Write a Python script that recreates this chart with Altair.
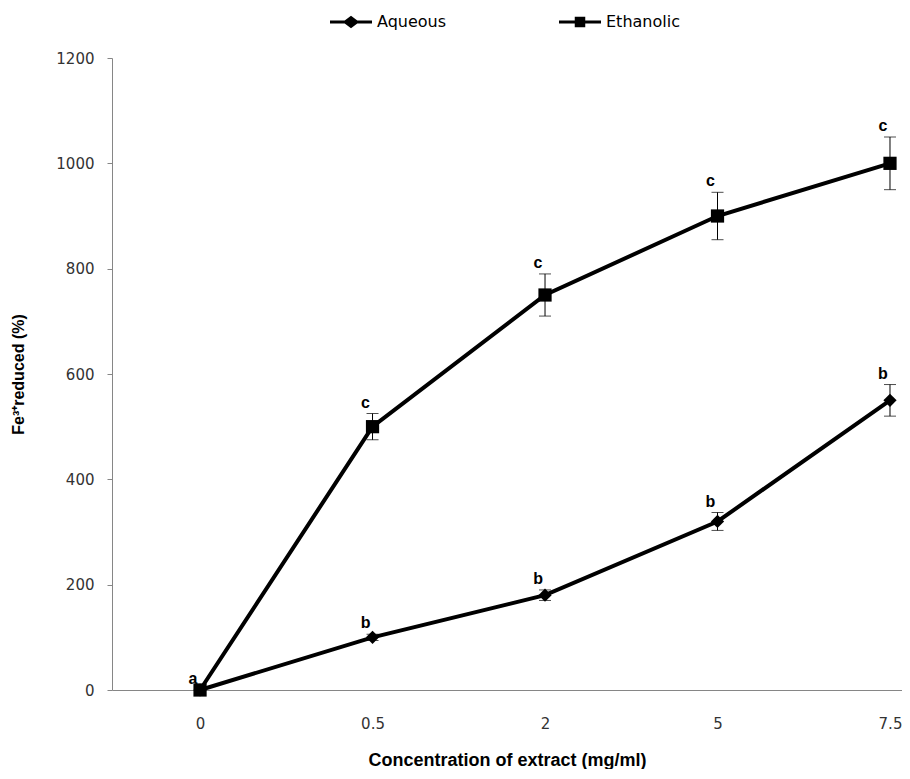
import altair as alt
import pandas as pd

concentrations = ["0", "0.5", "2", "5", "7.5"]
aqueous = [0, 100, 180, 320, 550]
aqueous_err = [0, 6, 10, 17, 30]
aqueous_letters = ["a", "b", "b", "b", "b"]
ethanolic = [0, 500, 750, 900, 1000]
ethanolic_err = [0, 25, 40, 45, 50]
ethanolic_letters = ["", "c", "c", "c", "c"]
series_names = ["Aqueous", "Ethanolic"]
y_ticks = [0, 200, 400, 600, 800, 1000, 1200]

rows = []
for name, vals, errs, letters, marker in [
    ("Aqueous", aqueous, aqueous_err, aqueous_letters, "diamond"),
    ("Ethanolic", ethanolic, ethanolic_err, ethanolic_letters, "square"),
]:
    for c, v, e, l in zip(concentrations, vals, errs, letters):
        rows.append(dict(series=name, conc=c, value=v, err=e, lo=v - e, hi=v + e,
                         letter=l, marker=marker))
df = pd.DataFrame(rows)

x_enc = alt.X(
    "conc:N", sort=concentrations,
    scale=alt.Scale(type="point", padding=0.29, align=0.88),
    axis=alt.Axis(title="Concentration of extract (mg/ml)", labelAngle=0, ticks=False,
                  labelPadding=26, labelFont="DejaVu Sans", labelFontSize=15,
                  labelColor="#333333", domainColor="#868686", domainWidth=1,
                  titleFont="Liberation Sans", titleFontSize=18, titleFontWeight="bold",
                  titleColor="#000000", titleY=75, titleBaseline="alphabetic", grid=False),
)
y_scale = alt.Scale(domain=[0, 1200], nice=False, zero=True)
y_axis = alt.Axis(title="Fe³⁺reduced (%)", values=y_ticks, format="d", grid=False, tickSize=5,
                  tickColor="#868686", domainColor="#868686", labelPadding=13,
                  labelFont="DejaVu Sans", labelFontSize=15, labelColor="#333333",
                  titleFont="Liberation Sans", titleFontSize=16, titleFontWeight="bold",
                  titleColor="#000000", titleX=-94, titleY=316, titleAngle=270,
                  titleAlign="center", titleBaseline="middle")

base = alt.Chart(df)

err_rule = base.transform_filter("datum.err > 0").mark_rule(color="black", strokeWidth=1).encode(
    x=x_enc, y=alt.Y("lo:Q", scale=y_scale, axis=y_axis), y2="hi:Q")
cap_hi = base.transform_filter("datum.err > 0").mark_tick(
    color="black", size=12, thickness=1, orient="horizontal").encode(
    x=x_enc, y=alt.Y("hi:Q", scale=y_scale))
cap_lo = base.transform_filter("datum.err > 0").mark_tick(
    color="black", size=12, thickness=1, orient="horizontal").encode(
    x=x_enc, y=alt.Y("lo:Q", scale=y_scale))

lines = base.mark_line(color="black", strokeWidth=4).encode(
    x=x_enc, y=alt.Y("value:Q", scale=y_scale), detail="series:N")

points = base.mark_point(filled=True, color="black", opacity=1, size=175).encode(
    x=x_enc, y=alt.Y("value:Q", scale=y_scale),
    shape=alt.Shape("marker:N", scale=None))

labels = base.transform_filter("datum.letter != ''").mark_text(
    font="Liberation Sans", fontSize=16, fontWeight="bold", color="black",
    baseline="bottom", align="center", dx=-7, dy=-3).encode(
    x=x_enc, y=alt.Y("hi:Q", scale=y_scale), text="letter:N")

diamond_path = ("M-1,-0.07 L-0.3,-0.07 L0,-0.3 L0.3,-0.07 L1,-0.07 L1,0.07 "
                "L0.3,0.07 L0,0.3 L-0.3,0.07 L-1,0.07 Z")
square_path = ("M-1,-0.07 L-0.25,-0.07 L-0.25,-0.25 L0.25,-0.25 L0.25,-0.07 L1,-0.07 "
               "L1,0.07 L0.25,0.07 L0.25,0.25 L-0.25,0.25 L-0.25,0.07 L-1,0.07 Z")

legend_layer = base.transform_filter("false").mark_point(filled=True, color="black", opacity=1).encode(
    x=x_enc, y=alt.Y("value:Q", scale=y_scale),
    shape=alt.Shape("series:N",
                    scale=alt.Scale(domain=series_names, range=[diamond_path, square_path]),
                    legend=alt.Legend(title=None, orient="none", legendX=218, legendY=-57,
                                      direction="horizontal", symbolSize=1764,
                                      symbolFillColor="black", symbolStrokeWidth=0,
                                      labelFont="DejaVu Sans", labelFontSize=16,
                                      labelColor="#000000", labelOffset=5,
                                      columnPadding=112)))

chart = alt.layer(err_rule, cap_hi, cap_lo, lines, points, labels, legend_layer).properties(
    width=790, height=632,
    autosize=alt.AutoSizeParams(type="none"),
    padding={"left": 104, "top": 50, "right": 0, "bottom": 79},
).configure_view(stroke=None)

chart.save("out.html", embed_options={"renderer": "svg", "actions": False})
